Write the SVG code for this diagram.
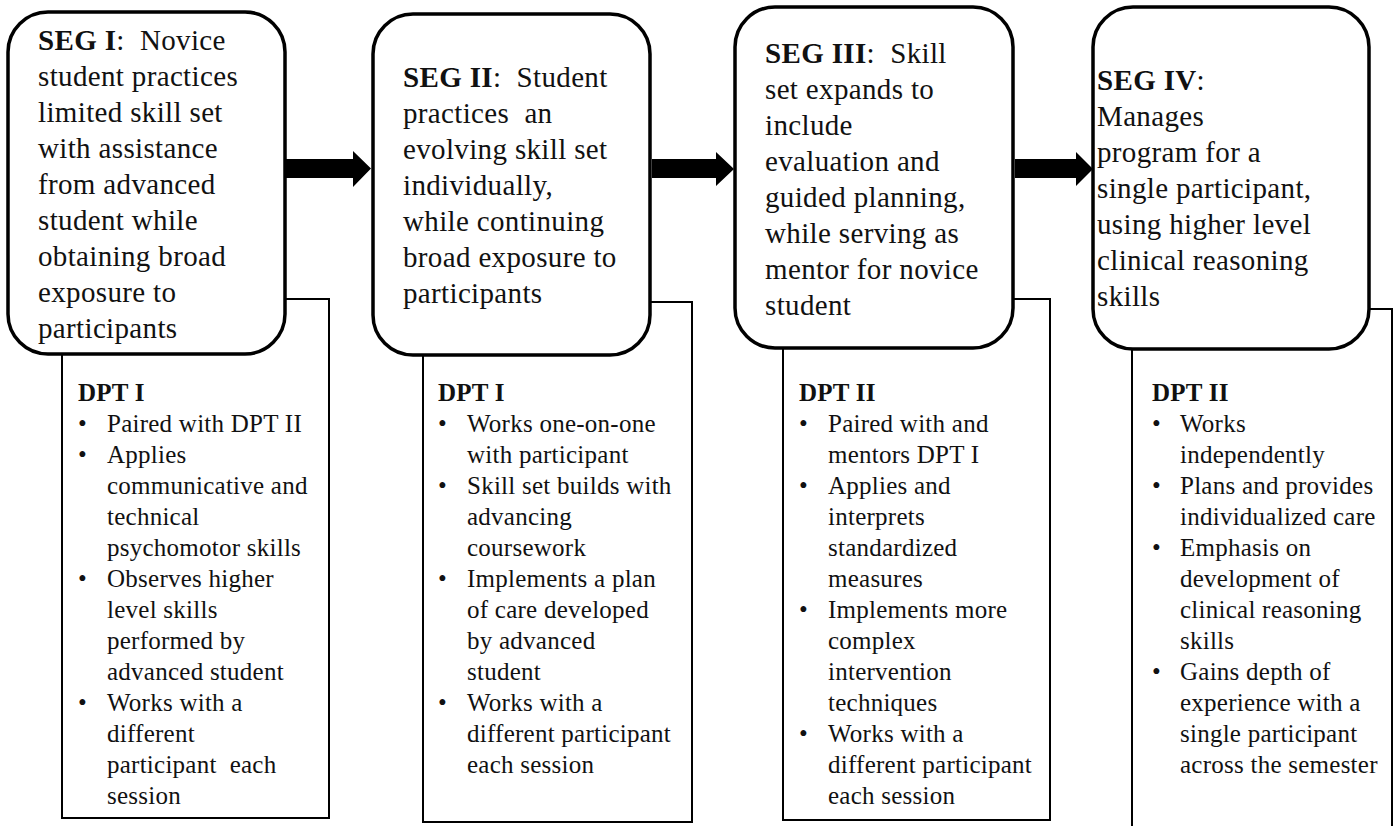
<svg xmlns="http://www.w3.org/2000/svg" width="1396" height="826" viewBox="0 0 1396 826">
<defs>
<style>
.seg{fill:#fff;stroke:#000;stroke-width:3.5}
.dpt{fill:#fff;stroke:#000;stroke-width:2}
.t{font-family:"Liberation Serif","Times New Roman",serif;font-size:29px;letter-spacing:0.35px;fill:#111}
.b{font-family:"Liberation Serif","Times New Roman",serif;font-size:25px;letter-spacing:0.25px;fill:#111}
.bold{font-weight:bold}
.arrow{fill:#000}
</style>
</defs>
<rect width="1396" height="826" fill="#fff"/>

<g id="detail1">
<rect class="dpt" x="62" y="299" width="267" height="519"/>
<text class="b"><tspan class="bold" x="78" y="401">DPT I</tspan>
<tspan x="78" y="432">•</tspan><tspan x="107" y="432">Paired with DPT II</tspan>
<tspan x="78" y="463">•</tspan><tspan x="107" y="463">Applies</tspan>
<tspan x="107" y="494">communicative and</tspan>
<tspan x="107" y="525">technical</tspan>
<tspan x="107" y="556">psychomotor skills</tspan>
<tspan x="78" y="587">•</tspan><tspan x="107" y="587">Observes higher</tspan>
<tspan x="107" y="618">level skills</tspan>
<tspan x="107" y="649">performed by</tspan>
<tspan x="107" y="680">advanced student</tspan>
<tspan x="78" y="711">•</tspan><tspan x="107" y="711">Works with a</tspan>
<tspan x="107" y="742">different</tspan>
<tspan x="107" y="773">participant&#160; each</tspan>
<tspan x="107" y="804">session</tspan></text>
</g>

<g id="detail2">
<rect class="dpt" x="423" y="302" width="269" height="520"/>
<text class="b"><tspan class="bold" x="438" y="401">DPT I</tspan>
<tspan x="438" y="432">•</tspan><tspan x="467" y="432">Works one-on-one</tspan>
<tspan x="467" y="463">with participant</tspan>
<tspan x="438" y="494">•</tspan><tspan x="467" y="494">Skill set builds with</tspan>
<tspan x="467" y="525">advancing</tspan>
<tspan x="467" y="556">coursework</tspan>
<tspan x="438" y="587">•</tspan><tspan x="467" y="587">Implements a plan</tspan>
<tspan x="467" y="618">of care developed</tspan>
<tspan x="467" y="649">by advanced</tspan>
<tspan x="467" y="680">student</tspan>
<tspan x="438" y="711">•</tspan><tspan x="467" y="711">Works with a</tspan>
<tspan x="467" y="742">different participant</tspan>
<tspan x="467" y="773">each session</tspan></text>
</g>

<g id="detail3">
<rect class="dpt" x="783" y="299" width="267" height="521"/>
<text class="b"><tspan class="bold" x="799" y="401">DPT II</tspan>
<tspan x="799" y="432">•</tspan><tspan x="828" y="432">Paired with and</tspan>
<tspan x="828" y="463">mentors DPT I</tspan>
<tspan x="799" y="494">•</tspan><tspan x="828" y="494">Applies and</tspan>
<tspan x="828" y="525">interprets</tspan>
<tspan x="828" y="556">standardized</tspan>
<tspan x="828" y="587">measures</tspan>
<tspan x="799" y="618">•</tspan><tspan x="828" y="618">Implements more</tspan>
<tspan x="828" y="649">complex</tspan>
<tspan x="828" y="680">intervention</tspan>
<tspan x="828" y="711">techniques</tspan>
<tspan x="799" y="742">•</tspan><tspan x="828" y="742">Works with a</tspan>
<tspan x="828" y="773">different participant</tspan>
<tspan x="828" y="804">each session</tspan></text>
</g>

<g id="detail4">
<rect class="dpt" x="1132" y="309" width="260" height="530"/>
<text class="b"><tspan class="bold" x="1152" y="401">DPT II</tspan>
<tspan x="1152" y="432">•</tspan><tspan x="1180" y="432">Works</tspan>
<tspan x="1180" y="463">independently</tspan>
<tspan x="1152" y="494">•</tspan><tspan x="1180" y="494">Plans and provides</tspan>
<tspan x="1180" y="525">individualized care</tspan>
<tspan x="1152" y="556">•</tspan><tspan x="1180" y="556">Emphasis on</tspan>
<tspan x="1180" y="587">development of</tspan>
<tspan x="1180" y="618">clinical reasoning</tspan>
<tspan x="1180" y="649">skills</tspan>
<tspan x="1152" y="680">•</tspan><tspan x="1180" y="680">Gains depth of</tspan>
<tspan x="1180" y="711">experience with a</tspan>
<tspan x="1180" y="742">single participant</tspan>
<tspan x="1180" y="773">across the semester</tspan></text>
</g>

<g id="seg1">
<rect class="seg" x="8" y="12" width="277" height="342" rx="40" ry="40"/>
<text class="t"><tspan x="38" y="50"><tspan class="bold">SEG I</tspan>:&#160; Novice</tspan>
<tspan x="38" y="86">student practices</tspan>
<tspan x="38" y="122">limited skill set</tspan>
<tspan x="38" y="158">with assistance</tspan>
<tspan x="38" y="194">from advanced</tspan>
<tspan x="38" y="230">student while</tspan>
<tspan x="38" y="266">obtaining broad</tspan>
<tspan x="38" y="302">exposure to</tspan>
<tspan x="38" y="338">participants</tspan></text>
</g>

<g id="seg2">
<rect class="seg" x="373" y="14" width="277" height="341" rx="40" ry="40"/>
<text class="t"><tspan x="403" y="87"><tspan class="bold">SEG II</tspan>:&#160; Student</tspan>
<tspan x="403" y="123">practices&#160; an</tspan>
<tspan x="403" y="159">evolving skill set</tspan>
<tspan x="403" y="195">individually,</tspan>
<tspan x="403" y="231">while continuing</tspan>
<tspan x="403" y="267">broad exposure to</tspan>
<tspan x="403" y="303">participants</tspan></text>
</g>

<g id="seg3">
<rect class="seg" x="735" y="7" width="278" height="341" rx="40" ry="40"/>
<text class="t"><tspan x="765" y="63"><tspan class="bold">SEG III</tspan>:&#160; Skill</tspan>
<tspan x="765" y="99">set expands to</tspan>
<tspan x="765" y="135">include</tspan>
<tspan x="765" y="171">evaluation and</tspan>
<tspan x="765" y="207">guided planning,</tspan>
<tspan x="765" y="243">while serving as</tspan>
<tspan x="765" y="279">mentor for novice</tspan>
<tspan x="765" y="315">student</tspan></text>
</g>

<g id="seg4">
<rect class="seg" x="1093" y="7" width="276" height="342" rx="40" ry="40"/>
<text class="t"><tspan x="1097" y="90"><tspan class="bold">SEG IV</tspan>:</tspan>
<tspan x="1097" y="126">Manages</tspan>
<tspan x="1097" y="162">program for a</tspan>
<tspan x="1097" y="198">single participant,</tspan>
<tspan x="1097" y="234">using higher level</tspan>
<tspan x="1097" y="270">clinical reasoning</tspan>
<tspan x="1097" y="306">skills</tspan></text>
</g>

<g id="connectors">
<polygon class="arrow" points="286,159 353,159 353,151 371,168.5 353,187 353,178 286,178"/>
<polygon class="arrow" points="652,159 716,159 716,152 734,169 716,186 716,178 652,178"/>
<polygon class="arrow" points="1015,159 1076,159 1076,152 1093,169 1076,186 1076,178 1015,178"/>
</g>
</svg>
